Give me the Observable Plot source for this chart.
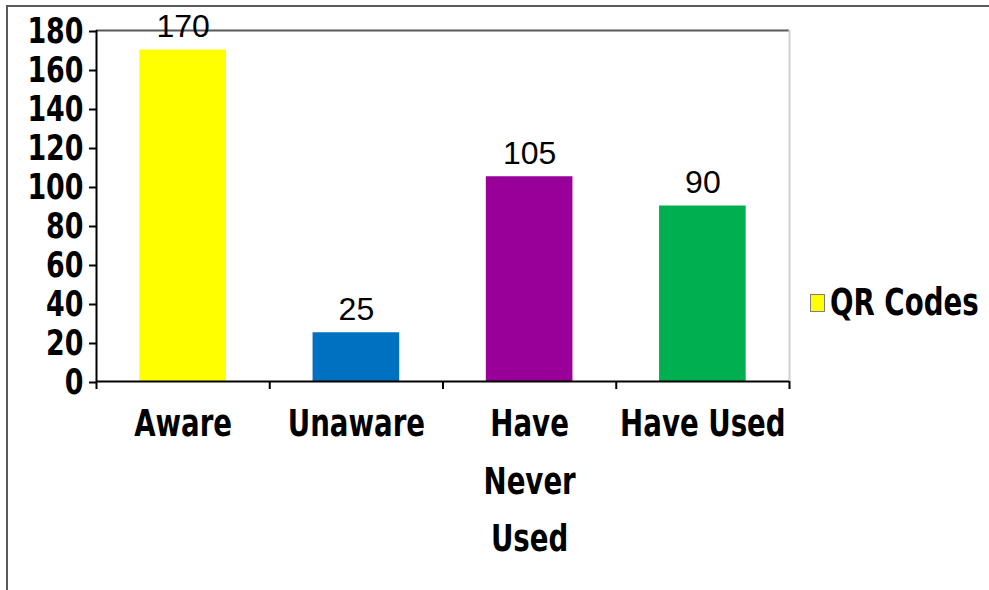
<!DOCTYPE html>
<html>
<head>
<meta charset="utf-8">
<script src="https://cdn.jsdelivr.net/npm/d3@7"></script>
<script src="https://cdn.jsdelivr.net/npm/@observablehq/plot@0.6"></script>
<style>
  html, body { margin: 0; padding: 0; background: #fff; overflow: hidden; }
  #chart { position: relative; width: 989px; height: 590px; color: #000; }
  #border { position: absolute; left: 6px; top: 5px; width: 1000px; height: 600px;
            border-left: 2px solid #595959; border-top: 2px solid #595959; pointer-events: none; }
  #plot { position: absolute; left: 0; top: 0; }
  #legend { position: absolute; left: 810px; top: 281px; display: flex; align-items: center; white-space: nowrap;
            font: bold 37px "DejaVu Sans Condensed", "Liberation Sans", sans-serif; }
  #legend .swatch { width: 13px; height: 16px; border: 1px solid #7f7f7f; margin-right: 5px; }
  #legend .name { display: inline-block; transform: scaleX(0.83); transform-origin: left center; }
</style>
</head>
<body>
<div id="chart">
  <div id="plot"></div>
  <div id="legend"><span class="swatch"></span><span class="name"></span></div>
  <div id="border"></div>
</div>
<script>
// Survey counts for QR code awareness and use
const categories = ["Aware", "Unaware", "Have Never Used", "Have Used"];
const axisLabels = ["Aware", "Unaware", "Have\nNever\nUsed", "Have Used"];
const counts = [170, 25, 105, 90];
const yTicks = [0, 20, 40, 60, 80, 100, 120, 140, 160, 180];
const seriesName = "QR Codes";

const barColors = ["#FFFF00", "#0070C0", "#990099", "#00B050"];
const boldFont = '"DejaVu Sans Condensed", "Liberation Sans", sans-serif';
const plainFont = '"Liberation Sans", Arial, sans-serif';
const narrow = 0.83; // horizontal squeeze applied to the bold labels

// each category owns one unit slot on the x scale; the bar fills its middle half
const rows = categories.map((c, i) => ({category: c, label: axisLabels[i], count: counts[i], slot: i}));
const boundaries = d3.range(categories.length + 1);

const chart = Plot.plot({
  width: 989,
  height: 590,
  marginLeft: 96,
  marginRight: 200,
  marginTop: 30,
  marginBottom: 209,
  style: {background: "transparent", overflow: "visible", color: "#000"},
  x: {type: "linear", domain: [0, categories.length], axis: null},
  y: {domain: [0, 180], axis: null, label: null},
  color: {domain: categories, range: barColors},
  marks: [
    Plot.rectY(rows, {x1: d => d.slot + 0.25, x2: d => d.slot + 0.75, y1: 0, y2: "count", fill: "category"}),
    Plot.ruleY([180], {stroke: "#595959", strokeWidth: 2}),
    Plot.ruleX([categories.length], {y1: 0, y2: 180, stroke: "#d0d0d0", strokeWidth: 2}),
    Plot.axisY({
      ticks: yTicks, tickSize: 7, tickPadding: 6, tickFormat: d => String(d), label: null,
      strokeWidth: 2, fontSize: 36, fontWeight: "bold", fontFamily: boldFont, dy: 1
    }),
    Plot.axisX({ticks: boundaries, tickSize: 8, strokeWidth: 2, tickFormat: () => "", label: null}),
    Plot.ruleX([0], {stroke: "#000", strokeWidth: 2}),
    Plot.ruleY([0], {stroke: "#000", strokeWidth: 2}),
    Plot.text(rows, {
      x: d => d.slot + 0.5, y: "count", text: d => String(d.count),
      lineAnchor: "bottom", dy: -13, fontSize: 32, fontFamily: plainFont, fill: "#000"
    }),
    Plot.text(rows, {
      x: d => d.slot + 0.5, y: 0, text: "label",
      lineAnchor: "top", dy: 14, fontSize: 37, fontWeight: "bold", fontFamily: boldFont,
      lineHeight: 1.55, fill: "#000"
    })
  ]
});

// squeeze every bold label horizontally around its own anchor
chart.querySelectorAll('[font-weight="bold"] text, text[font-weight="bold"]').forEach(t => {
  let tr = t.getAttribute("transform");
  if (!tr) {
    const x = +t.getAttribute("x") || 0, y = +t.getAttribute("y") || 0;
    t.removeAttribute("x"); t.removeAttribute("y");
    tr = `translate(${x},${y})`;
  }
  t.setAttribute("transform", `${tr} scale(${narrow},1)`);
});

document.getElementById("plot").appendChild(chart);
document.querySelector("#legend .swatch").style.background = barColors[0];
document.querySelector("#legend .name").textContent = seriesName;
</script>
</body>
</html>
